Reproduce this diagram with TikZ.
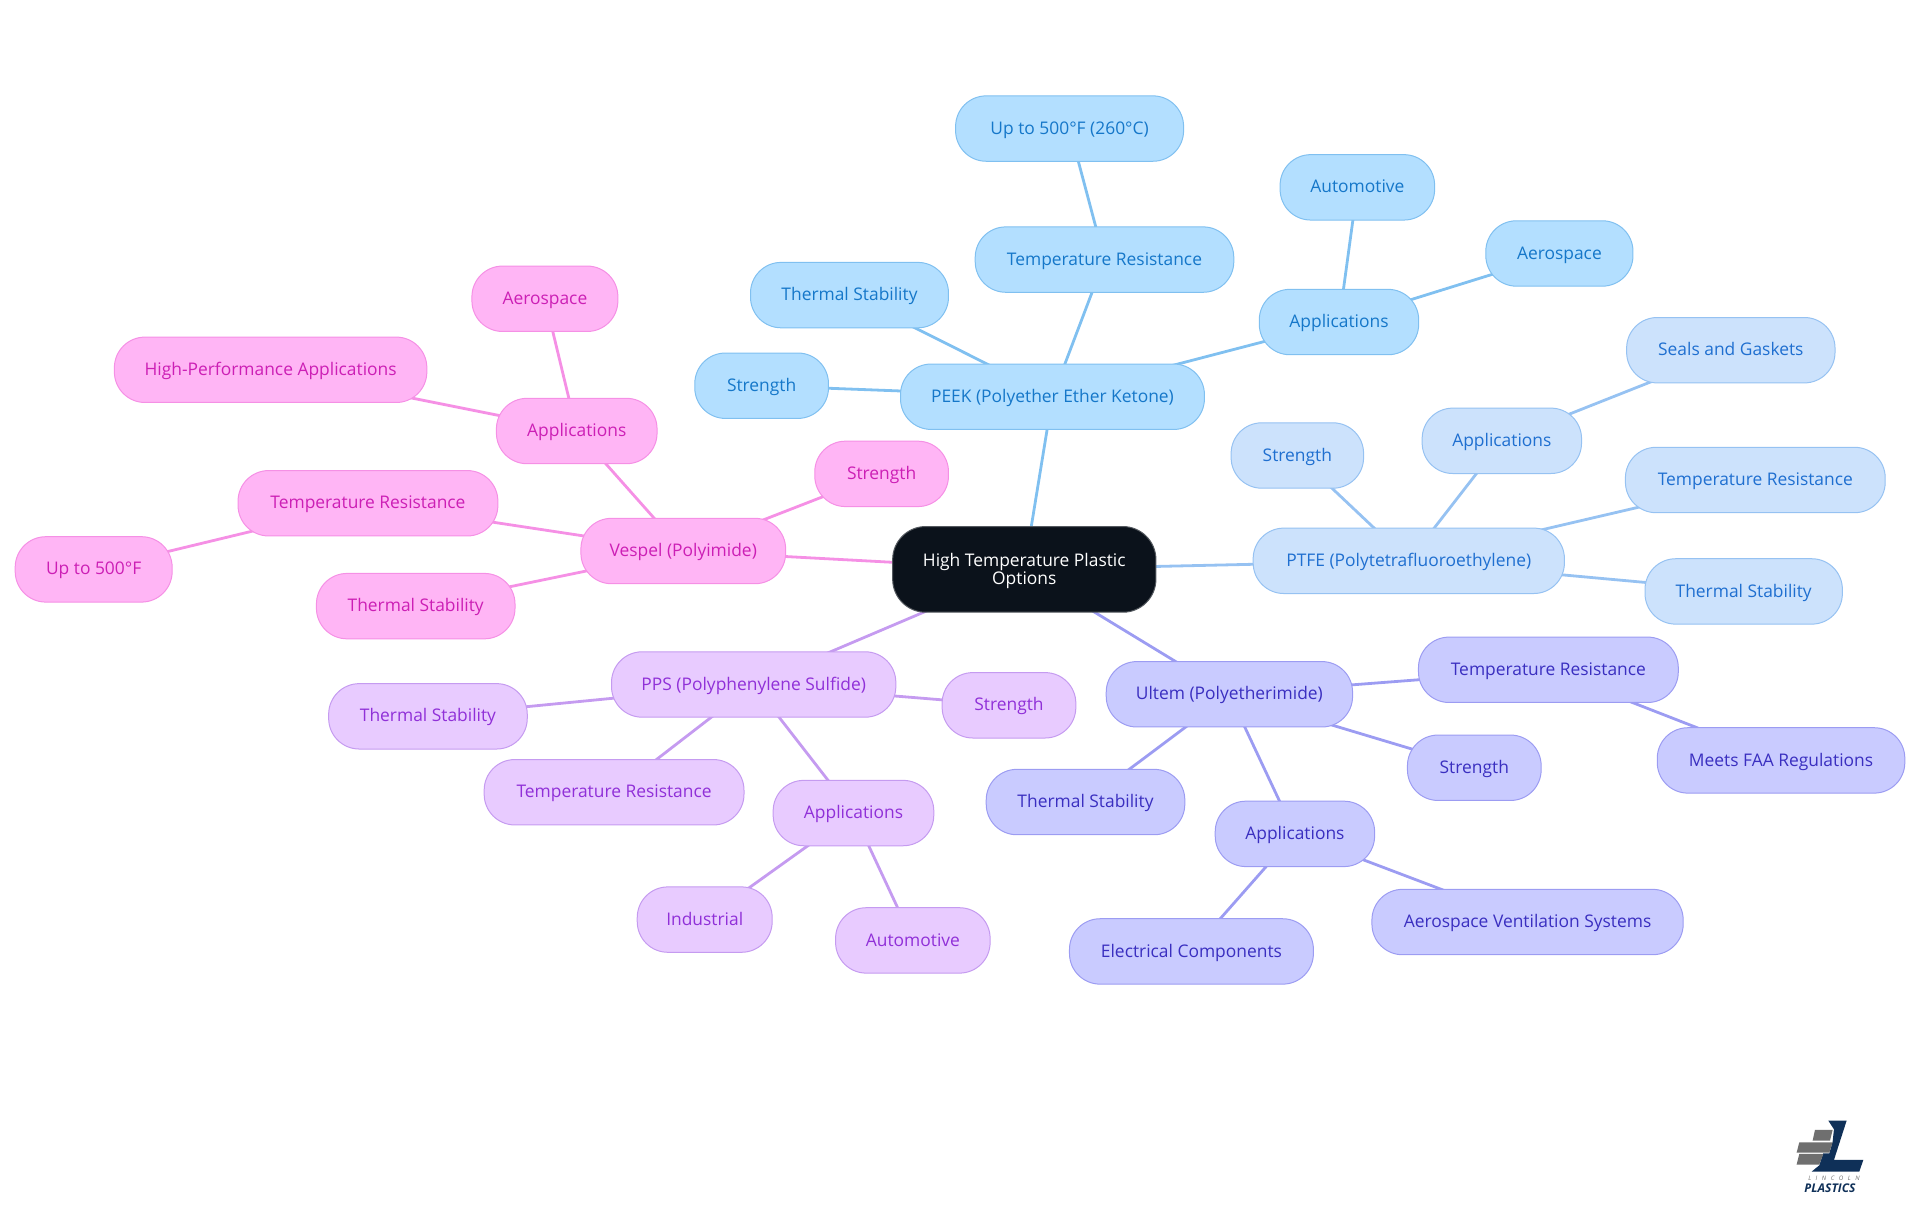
\documentclass[tikz,border=0pt]{standalone}
\usepackage{fontspec}
\setmainfont{Open Sans}
\usetikzlibrary{backgrounds}
\definecolor{peekF}{HTML}{B3DFFF}\definecolor{peekS}{HTML}{80C0F0}\definecolor{peekT}{HTML}{1577C9}
\definecolor{ptfeF}{HTML}{CCE2FC}\definecolor{ptfeS}{HTML}{96C2F2}\definecolor{ptfeT}{HTML}{1F6FD0}
\definecolor{ultF}{HTML}{C9CBFF}\definecolor{ultS}{HTML}{9C9CF2}\definecolor{ultT}{HTML}{3A2FC0}
\definecolor{ppsF}{HTML}{E8CBFF}\definecolor{ppsS}{HTML}{C59BF0}\definecolor{ppsT}{HTML}{9030D8}
\definecolor{vesF}{HTML}{FFB5F5}\definecolor{vesS}{HTML}{F590E5}\definecolor{vesT}{HTML}{CC1FB5}
\definecolor{rootF}{HTML}{0B121B}\definecolor{navy}{HTML}{0F3058}\definecolor{logoG}{HTML}{6F6F6F}
\newlength{\uu}\setlength{\uu}{0.9184pt}
\tikzset{
  box/.style={rounded corners=25\uu,inner sep=0pt,outer sep=0pt,line width=0.75pt,font=\fontsize{13.05pt}{15pt}\selectfont,text height=11.4pt,text depth=3pt},
  peek/.style={box,draw=peekS,fill=peekF,text=peekT},
  ptfe/.style={box,draw=ptfeS,fill=ptfeF,text=ptfeT},
  ult/.style={box,draw=ultS,fill=ultF,text=ultT},
  pps/.style={box,draw=ppsS,fill=ppsF,text=ppsT},
  ves/.style={box,draw=vesS,fill=vesF,text=vesT},
  lnk/.style={line width=2.1pt},
}
% name, style, x1, x2, y1, text
\newcommand{\mm}[6]{\node[#2,minimum width={(#4-#3)*\uu-0.75pt},minimum height=53.4\uu] (#1) at ({(#3+#4)/2},{#5+27}) {#6};}
\newcommand{\ee}[3]{\draw[lnk,#1] (#2.center) -- (#3.center);}
\begin{document}
\begin{tikzpicture}[x=\uu,y=-\uu]
\useasboundingbox (0,0) rectangle (1568,992.25);
\node[box,fill=rootF,draw=rootF!70!white,text=white,rounded corners=27\uu,minimum width=215\uu,minimum height=70\uu,align=center,text height=,text depth=,font=\fontsize{13.05pt}{12.8\uu}\selectfont] (root) at (836.5,465) {\rule{0pt}{12pt}High Temperature Plastic\\Options};
\mm{peek}{peek}{735}{984}{297}{PEEK (Polyether Ether Ketone)}
\mm{peekA}{peek}{567}{677}{288}{Strength}
\mm{peekB}{peek}{612.5}{775}{214}{Thermal Stability}
\mm{peekC}{peek}{796}{1008}{185}{Temperature Resistance}
\mm{peekD}{peek}{780}{967}{78}{Up to 500°F (260°C)}
\mm{peekE}{peek}{1028}{1159}{236}{Applications}
\mm{peekF1}{peek}{1045}{1172}{126}{Automotive}
\mm{peekG}{peek}{1213}{1334}{180}{Aerospace}
\mm{ptfe}{ptfe}{1023}{1278}{431}{PTFE (Polytetrafluoroethylene)}
\mm{ptfeA}{ptfe}{1005}{1114}{345}{Strength}
\mm{ptfeB}{ptfe}{1161}{1292}{333}{Applications}
\mm{ptfeC}{ptfe}{1328}{1499}{259}{Seals and Gaskets}
\mm{ptfeD}{ptfe}{1327}{1540}{365}{Temperature Resistance}
\mm{ptfeE}{ptfe}{1343}{1505}{456}{Thermal Stability}
\mm{ult}{ult}{903}{1105}{540}{Ultem (Polyetherimide)}
\mm{ultA}{ult}{1158}{1371}{520}{Temperature Resistance}
\mm{ultB}{ult}{1353}{1556}{594}{Meets FAA Regulations}
\mm{ultC}{ult}{1149}{1259}{600}{Strength}
\mm{ultD}{ult}{805}{968}{628}{Thermal Stability}
\mm{ultE}{ult}{992}{1123}{654}{Applications}
\mm{ultF1}{ult}{873}{1073}{750}{Electrical Components}
\mm{ultG}{ult}{1120}{1375}{726}{Aerospace Ventilation Systems}
\mm{pps}{pps}{499}{732}{532}{PPS (Polyphenylene Sulfide)}
\mm{ppsA}{pps}{769}{879}{549}{Strength}
\mm{ppsB}{pps}{268}{431}{558}{Thermal Stability}
\mm{ppsC}{pps}{395}{608}{620}{Temperature Resistance}
\mm{ppsD}{pps}{631}{763}{637}{Applications}
\mm{ppsE}{pps}{520}{631}{724}{Industrial}
\mm{ppsF1}{pps}{682}{809}{741}{Automotive}
\mm{ves}{ves}{474}{642}{423}{Vespel (Polyimide)}
\mm{vesA}{ves}{665}{775}{360}{Strength}
\mm{vesB}{ves}{194}{407}{384}{Temperature Resistance}
\mm{vesC}{ves}{12}{141}{438}{Up to 500°F}
\mm{vesD}{ves}{258}{421}{468}{Thermal Stability}
\mm{vesE}{ves}{405}{537}{325}{Applications}
\mm{vesF1}{ves}{385}{505}{217}{Aerospace}
\mm{vesG}{ves}{93}{349}{275}{High-Performance Applications}
\begin{scope}[on background layer]
\ee{peekS}{root}{peek}\ee{peekS}{peek}{peekA}\ee{peekS}{peek}{peekB}\ee{peekS}{peek}{peekC}\ee{peekS}{peekC}{peekD}\ee{peekS}{peek}{peekE}\ee{peekS}{peekE}{peekF1}\ee{peekS}{peekE}{peekG}
\ee{ptfeS}{root}{ptfe}\ee{ptfeS}{ptfe}{ptfeA}\ee{ptfeS}{ptfe}{ptfeB}\ee{ptfeS}{ptfeB}{ptfeC}\ee{ptfeS}{ptfe}{ptfeD}\ee{ptfeS}{ptfe}{ptfeE}
\ee{ultS}{root}{ult}\ee{ultS}{ult}{ultA}\ee{ultS}{ultA}{ultB}\ee{ultS}{ult}{ultC}\ee{ultS}{ult}{ultD}\ee{ultS}{ult}{ultE}\ee{ultS}{ultE}{ultF1}\ee{ultS}{ultE}{ultG}
\ee{ppsS}{root}{pps}\ee{ppsS}{pps}{ppsA}\ee{ppsS}{pps}{ppsB}\ee{ppsS}{pps}{ppsC}\ee{ppsS}{pps}{ppsD}\ee{ppsS}{ppsD}{ppsE}\ee{ppsS}{ppsD}{ppsF1}
\ee{vesS}{root}{ves}\ee{vesS}{ves}{vesA}\ee{vesS}{ves}{vesB}\ee{vesS}{vesB}{vesC}\ee{vesS}{ves}{vesD}\ee{vesS}{ves}{vesE}\ee{vesS}{vesE}{vesF1}\ee{vesS}{vesE}{vesG}
\end{scope}
% logo, in reference pixels
\begin{scope}[x=0.25pt,y=-0.25pt,shift={(5280,3300)}]
\fill[navy] (205,62)--(260,62)--(222,180)--(310,180)--(298,215)--(155,215)--(178,196)--(190,160)--(208,160)--(218,125)--(222,88)--cycle;
\fill[logoG] (165,90)--(218,90)--(210,122)--(158,122)--cycle;
\fill[logoG] (118,127)--(218,127)--(208,158)--(110,158)--cycle;
\fill[logoG] (118,162)--(190,162)--(178,194)--(110,194)--cycle;
\node[inner sep=0pt,text=logoG,font=\fontsize{4.6pt}{5pt}\selectfont\itshape] (logoA) at (222,236) {L\hspace{3.4pt}I\hspace{3.4pt}N\hspace{3.4pt}C\hspace{3.4pt}O\hspace{3.4pt}L\hspace{3.4pt}N};
\node[inner sep=0pt,text=navy,font=\fontsize{9pt}{10pt}\selectfont\bfseries\itshape] (logoB) at (210,266) {PLASTICS};
\end{scope}
\end{tikzpicture}
\end{document}
